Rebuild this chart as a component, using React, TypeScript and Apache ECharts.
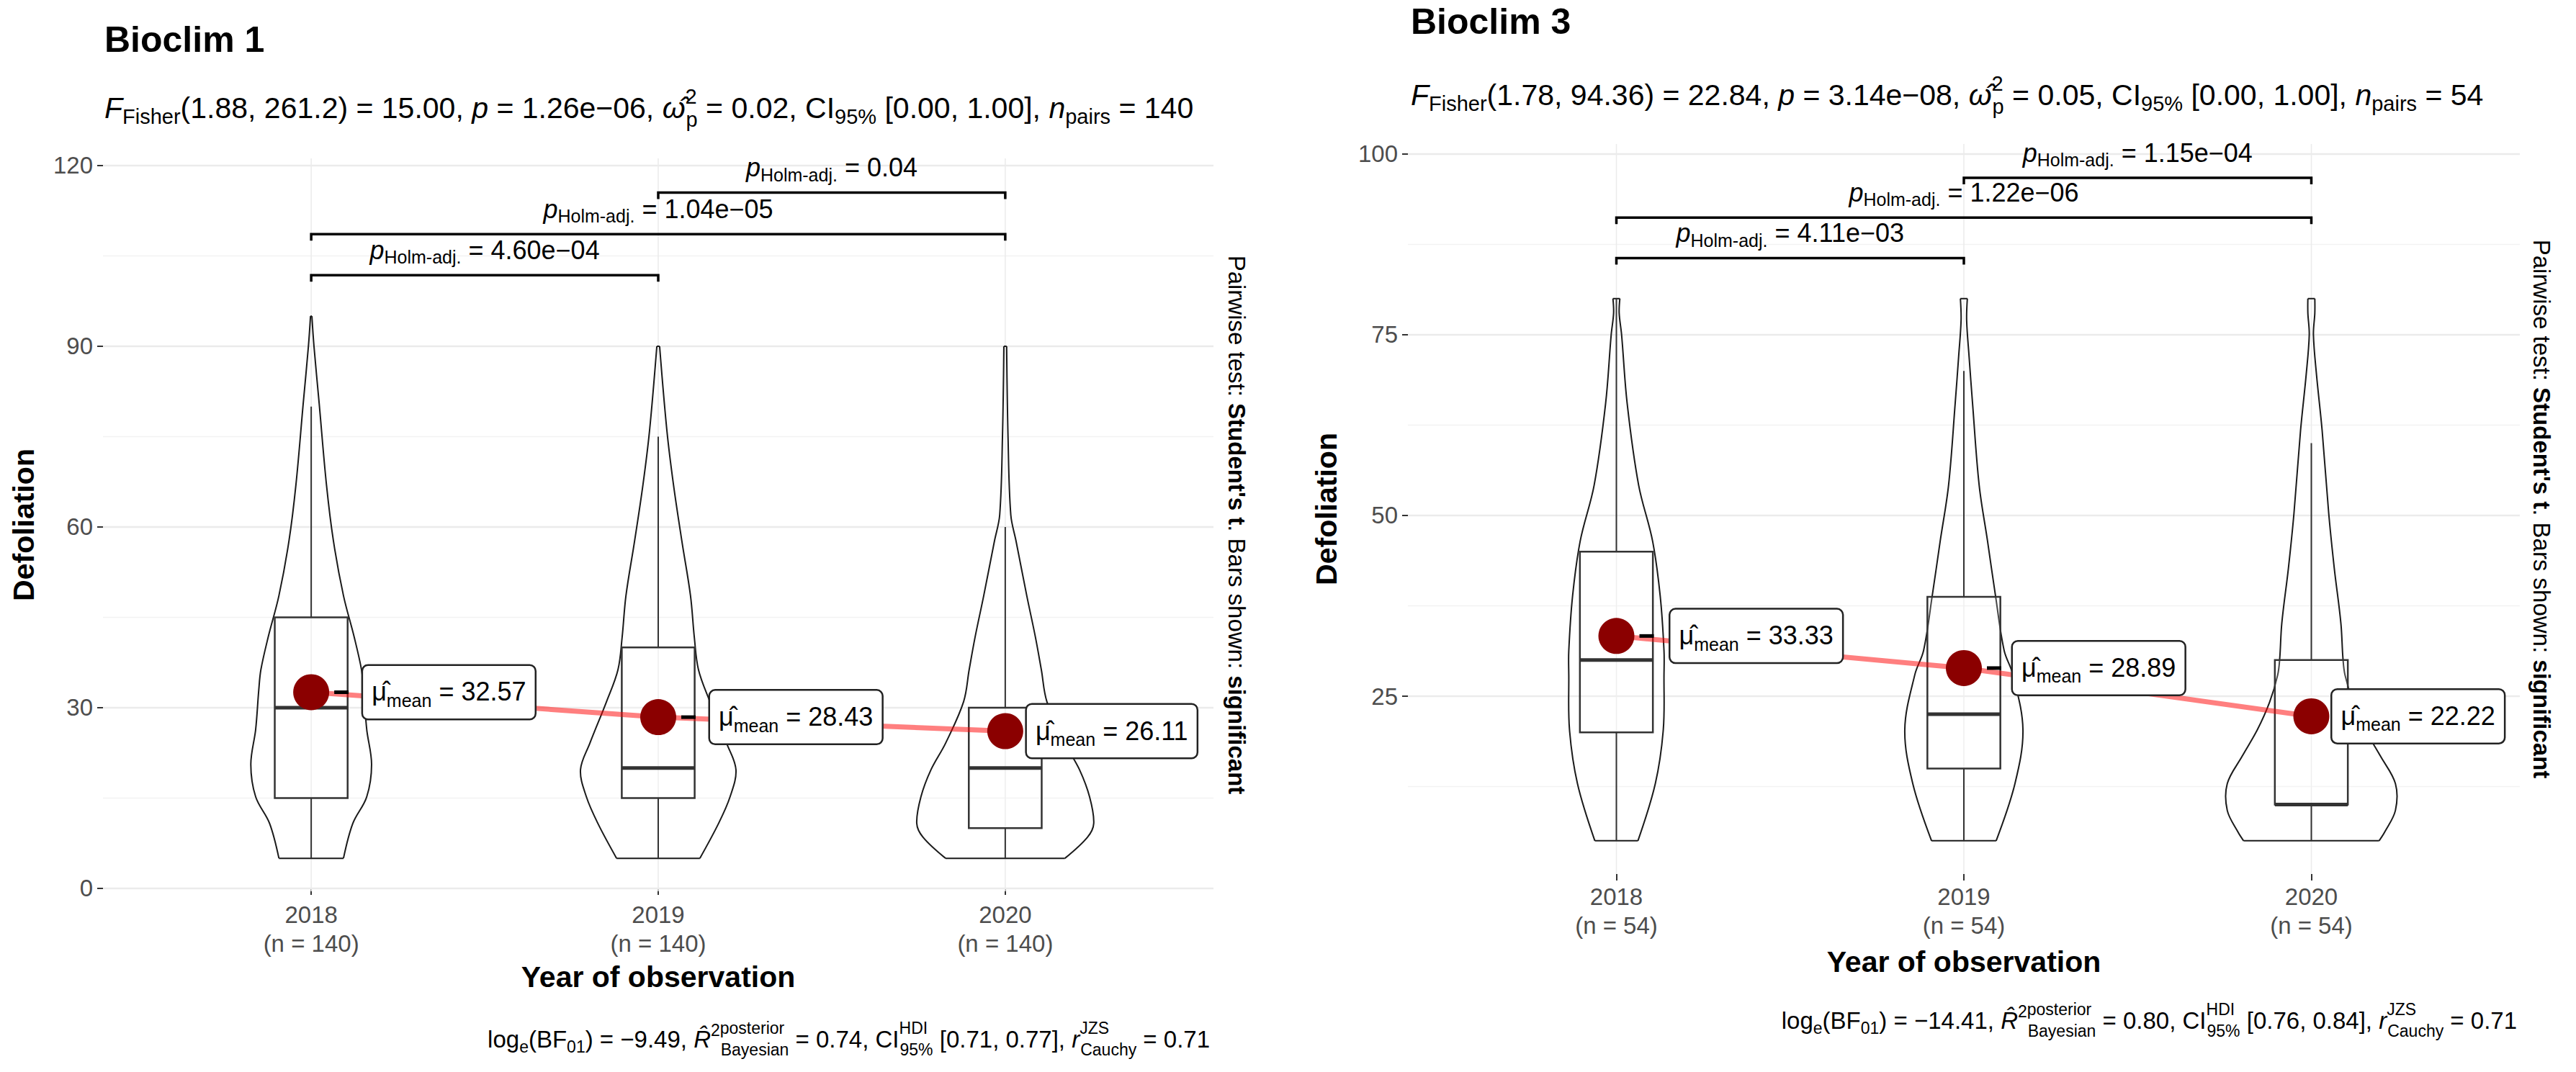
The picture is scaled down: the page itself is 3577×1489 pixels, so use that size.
import React, { useEffect, useRef } from 'react';
import * as echarts from 'echarts';

const FONT = '"Liberation Sans", Arial, Helvetica, sans-serif';

// ---------------- data ----------------
const years = ['2018', '2019', '2020'];
const xPositions = [1, 2, 3];

// Bioclim 1
const b1N = [140, 140, 140];
const b1Means = [32.57, 28.43, 26.11];
const b1Q1 = [15, 15, 10];
const b1Median = [30, 20, 20];
const b1Q3 = [45, 40, 30];
const b1WhiskerLow = [5, 5, 5];
const b1WhiskerHigh = [80, 75, 60];
// violin outline: [defoliation value, half width in x units]
const b1Violin2018 = [[5, 0.093], [10.8, 0.12], [15.2, 0.16], [20.6, 0.174], [26.4, 0.16], [33, 0.151], [36.3, 0.145], [41.7, 0.124], [48.6, 0.093], [57.7, 0.064], [67, 0.044], [80.5, 0.023], [90, 0.008], [95, 0.002]];
const b1Violin2019 = [[5, 0.12], [10.8, 0.174], [15.2, 0.207], [19.7, 0.224], [24.1, 0.197], [31, 0.149], [36.3, 0.116], [41.7, 0.104], [48.6, 0.093], [57.7, 0.068], [67, 0.044], [76, 0.025], [90, 0.004]];
const b1Violin2020 = [[5, 0.172], [8.5, 0.237], [10.8, 0.255], [15.2, 0.243], [19.7, 0.214], [24.1, 0.172], [31, 0.12], [36.3, 0.104], [41.7, 0.087], [48.6, 0.062], [57.7, 0.031], [62, 0.016], [75, 0.008], [90, 0.004]];
const b1PairFrom = [1, 1, 2];
const b1PairTo = [2, 3, 3];
const b1PairHeight = [101.8, 108.6, 115.5];
const b1PairP = ['4.60e\u221204', '1.04e\u221205', '0.04'];
const b1YTicks = [0, 30, 60, 90, 120];
const b1YMinor = [15, 45, 75, 105];

// Bioclim 3
const b3N = [54, 54, 54];
const b3Means = [33.33, 28.89, 22.22];
const b3Q1 = [20, 15, 10];
const b3Median = [30, 22.5, 10];
const b3Q3 = [45, 38.75, 30];
const b3WhiskerLow = [5, 5, 5];
const b3WhiskerHigh = [80, 70, 60];
const b3Violin2018 = [[5, 0.062], [12.9, 0.112], [20.4, 0.135], [27.9, 0.137], [31.3, 0.137], [38.9, 0.126], [46.5, 0.104], [54.2, 0.064], [65.5, 0.031], [75, 0.015], [78, 0.008], [80, 0.01]];
const b3Violin2019 = [[5, 0.093], [12.9, 0.147], [20.4, 0.17], [28, 0.141], [31.3, 0.116], [38.9, 0.091], [46.5, 0.068], [54.2, 0.044], [65.5, 0.025], [72, 0.015], [77, 0.008], [80, 0.01]];
const b3Violin2020 = [[5, 0.195], [6.2, 0.211], [9.2, 0.242], [12.9, 0.242], [16.7, 0.199], [20.4, 0.155], [24.2, 0.12], [27.9, 0.097], [30.2, 0.091], [35.1, 0.085], [42.7, 0.066], [50.3, 0.05], [61.8, 0.031], [69.4, 0.015], [75, 0.006], [78, 0.01], [80, 0.01]];
const b3PairFrom = [1, 1, 2];
const b3PairTo = [2, 3, 3];
const b3PairHeight = [85.6, 91.2, 96.7];
const b3PairP = ['4.11e\u221203', '1.22e\u221206', '1.15e\u221204'];
const b3YTicks = [25, 50, 75, 100];
const b3YMinor = [12.5, 37.5, 62.5, 87.5];

// statistics texts
const b1Stats = { df1: '1.88', df2: '261.2', F: '15.00', p: '1.26e\u221206', omega: '0.02', ci: '[0.00, 1.00]', n: '140', bf: '\u22129.49', r2: '0.74', hdi: '[0.71, 0.77]', rc: '0.71' };
const b3Stats = { df1: '1.78', df2: '94.36', F: '22.84', p: '3.14e\u221208', omega: '0.05', ci: '[0.00, 1.00]', n: '54', bf: '\u221214.41', r2: '0.80', hdi: '[0.76, 0.84]', rc: '0.71' };

// ---------------- helpers ----------------
const BOX_HALF = 0.105;

function mathRich(base: number, L: number, subH: number, supH: number, stackH: number, color = '#000') {
  const s = Math.round(base * 0.7);
  const common = { fontFamily: FONT, fill: color, color, lineHeight: L, align: 'left' };
  return {
    t: { ...common, fontSize: base },
    i: { ...common, fontSize: base, fontStyle: 'italic' },
    b: { ...common, fontSize: base, fontWeight: 'bold' },
    sb: { ...common, fontSize: s, verticalAlign: 'bottom', height: subH },
    sp: { ...common, fontSize: s, verticalAlign: 'top', height: supH },
    sbS: { ...common, fontSize: s, verticalAlign: 'bottom', height: stackH },
    spS: { ...common, fontSize: s, verticalAlign: 'top', height: stackH, width: 1 },
  };
}

const gridRender = (major: number[], minor: number[]) => (params: any, api: any) => {
  const cs = params.coordSys;
  const children: any[] = [];
  const hline = (v: number, color: string, w: number) => {
    const y = api.coord([2, v])[1];
    children.push({ type: 'line', shape: { x1: cs.x, y1: y, x2: cs.x + cs.width, y2: y }, style: { stroke: color, lineWidth: w } });
  };
  minor.forEach((v) => hline(v, '#F2F2F2', 1.5));
  major.forEach((v) => hline(v, '#EBEBEB', 2.5));
  xPositions.forEach((c) => {
    const x = api.coord([c, 50])[0];
    children.push({ type: 'line', shape: { x1: x, y1: cs.y, x2: x, y2: cs.y + cs.height }, style: { stroke: '#EBEBEB', lineWidth: 1.5 } });
  });
  return { type: 'group', children };
};

const violinRender = (violins: number[][][]) => (params: any, api: any) => {
  const c = api.value(0);
  const pts = violins[params.dataIndex];
  const right = pts.map(([v, h]) => api.coord([c + h, v]));
  const left = pts.map(([v, h]) => api.coord([c - h, v]));
  const n = pts.length - 1;
  const st = { stroke: '#1A1A1A', lineWidth: 2, fill: 'none' };
  return {
    type: 'group',
    children: [
      { type: 'polyline', shape: { points: right, smooth: 0.35 }, style: st },
      { type: 'polyline', shape: { points: left, smooth: 0.35 }, style: st },
      { type: 'line', shape: { x1: left[0][0], y1: left[0][1], x2: right[0][0], y2: right[0][1] }, style: st },
      { type: 'line', shape: { x1: left[n][0], y1: left[n][1], x2: right[n][0], y2: right[n][1] }, style: st },
    ],
  };
};

const boxRender = (q1: number[], med: number[], q3: number[], lo: number[], hi: number[]) => (params: any, api: any) => {
  const k = params.dataIndex;
  const c = api.value(0);
  const pLo = api.coord([c, lo[k]]);
  const pQ1 = api.coord([c, q1[k]]);
  const pQ3 = api.coord([c, q3[k]]);
  const pHi = api.coord([c, hi[k]]);
  const tl = api.coord([c - BOX_HALF, q3[k]]);
  const br = api.coord([c + BOX_HALF, q1[k]]);
  const mL = api.coord([c - BOX_HALF, med[k]]);
  const mR = api.coord([c + BOX_HALF, med[k]]);
  const st = { stroke: '#333333', lineWidth: 2.5 };
  return {
    type: 'group',
    children: [
      { type: 'line', shape: { x1: pLo[0], y1: pLo[1], x2: pQ1[0], y2: pQ1[1] }, style: { ...st, lineWidth: 2 } },
      { type: 'line', shape: { x1: pQ3[0], y1: pQ3[1], x2: pHi[0], y2: pHi[1] }, style: { ...st, lineWidth: 2 } },
      { type: 'rect', shape: { x: tl[0], y: tl[1], width: br[0] - tl[0], height: br[1] - tl[1] }, style: { ...st, fill: 'rgba(255,255,255,0.2)' } },
      { type: 'line', shape: { x1: mL[0], y1: mL[1], x2: mR[0], y2: mR[1] }, style: { stroke: '#333333', lineWidth: 5 } },
    ],
  };
};

const BRACKET_RICH = mathRich(36, 46, 26, 26, 20);

const bracketRender = (labels: string[]) => (params: any, api: any) => {
  const x1 = api.value(0);
  const x2 = api.value(1);
  const y = api.value(2);
  const a = api.coord([x1, y]);
  const b = api.coord([x2, y]);
  const tip = 9;
  return {
    type: 'group',
    children: [
      { type: 'polyline', shape: { points: [[a[0], a[1] + tip], [a[0], a[1]], [b[0], b[1]], [b[0], b[1] + tip]] }, style: { stroke: '#000', lineWidth: 3.5, fill: 'none' } },
      {
        type: 'text',
        x: (a[0] + b[0]) / 2,
        y: a[1] - 12,
        style: {
          text: `{i|p}{sb|Holm-adj.}{t| = ${labels[params.dataIndex]}}`,
          align: 'center',
          verticalAlign: 'bottom',
          lineHeight: 46,
          fontSize: 36,
          fontFamily: FONT,
          fill: '#000',
          rich: BRACKET_RICH,
        },
      },
    ],
  };
};

const segmentRender = (gaps: number[]) => (params: any, api: any) => {
  const g = gaps[params.dataIndex];
  if (g < 30) return null;
  const p = api.coord([api.value(0), api.value(1)]);
  return { type: 'line', shape: { x1: p[0] + 32, y1: p[1], x2: p[0] + 52, y2: p[1] }, style: { stroke: '#000', lineWidth: 5 } };
};

function panelSeries(p: number, d: any) {
  const ax = { xAxisIndex: p, yAxisIndex: p };
  const catData = xPositions.map((x, i) => [x, d.median[i]]);
  const meanData = xPositions.map((x, i) => [x, d.means[i]]);
  return [
    { type: 'custom', ...ax, z: 1, silent: true, data: [[2, 50]], renderItem: gridRender(d.major, d.minor) },
    { type: 'custom', ...ax, z: 2, silent: true, data: catData, renderItem: violinRender(d.violins) },
    { type: 'custom', ...ax, z: 3, silent: true, data: catData, renderItem: boxRender(d.q1, d.median, d.q3, d.lo, d.hi) },
    { type: 'line', ...ax, z: 4, silent: true, data: meanData, symbol: 'none', lineStyle: { color: 'rgba(255,0,0,0.5)', width: 7 } },
    { type: 'custom', ...ax, z: 5, silent: true, data: meanData, renderItem: segmentRender(d.gaps) },
    {
      type: 'scatter',
      ...ax,
      z: 6,
      silent: true,
      symbol: 'circle',
      symbolSize: 50,
      itemStyle: { color: '#8B0000', opacity: 1 },
      data: meanData.map((v, i) => ({ value: v, label: { distance: d.gaps[i] - 2 } })),
      label: {
        show: true,
        position: 'right',
        formatter: (pr: any) => `{mu|\u03BC\u0302}{sb|mean}{t| = ${Number(pr.value[1]).toFixed(2)}}`,
        backgroundColor: '#FFFFFF',
        borderColor: '#222222',
        borderWidth: 2.5,
        borderRadius: 7,
        padding: [12, 12, 13, 12],
        lineHeight: 48,
        fontSize: 36,
        fontFamily: FONT,
        color: '#000',
        rich: {
          mu: { fontSize: 36, fontFamily: FONT, color: '#000', lineHeight: 48, align: 'left' },
          t: { fontSize: 36, fontFamily: FONT, color: '#000', lineHeight: 48, align: 'left' },
          sb: { fontSize: 25, fontFamily: FONT, color: '#000', lineHeight: 48, align: 'left', verticalAlign: 'bottom', height: 24 },
        },
      },
    },
    {
      type: 'custom',
      ...ax,
      z: 7,
      silent: true,
      encode: { x: [0, 1], y: 2 },
      data: d.pairFrom.map((f: number, i: number) => [f, d.pairTo[i], d.pairHeight[i]]),
      renderItem: bracketRender(d.pairP),
    },
  ];
}

function xAxisFor(p: number, n: number[], margin: number) {
  return {
    type: 'value',
    gridIndex: p,
    min: 0.4,
    max: 3.6,
    axisLine: { show: false },
    splitLine: { show: false },
    axisTick: { show: true, customValues: xPositions, length: 9, lineStyle: { color: '#333333', width: 2 } },
    axisLabel: {
      show: true,
      customValues: xPositions,
      formatter: (v: number) => `${years[Math.round(v) - 1]}\n(n = ${n[Math.round(v) - 1]})`,
      fontSize: 33,
      lineHeight: 40,
      color: '#4D4D4D',
      fontFamily: FONT,
      margin,
    },
  };
}

function yAxisFor(p: number, min: number, max: number, ticks: number[]) {
  return {
    type: 'value',
    gridIndex: p,
    min,
    max,
    axisLine: { show: false },
    splitLine: { show: false },
    axisTick: { show: true, customValues: ticks, length: 8, lineStyle: { color: '#333333', width: 2 } },
    axisLabel: { show: true, customValues: ticks, fontSize: 33, color: '#4D4D4D', fontFamily: FONT, margin: 14 },
  };
}

function subtitleText(s: any) {
  return `{i|F}{sb|Fisher}{t|(${s.df1}, ${s.df2}) = ${s.F}, }{i|p}{t| = ${s.p}, }{i|\u03C9\u0302}{spS|2}{sbS|p}{t| = ${s.omega}, CI}{sb|95%}{t| ${s.ci}, }{i|n}{sb|pairs}{t| = ${s.n}}`;
}
function captionText(s: any) {
  return `{t|log}{sb|e}{t|(BF}{sb|01}{t|) = ${s.bf}, }{i|R\u0302}{sp|2}{spS|posterior}{sbS|Bayesian}{t| = ${s.r2}, CI}{spS|HDI}{sbS|95%}{t| ${s.hdi}, }{i|r}{spS|JZS}{sbS|Cauchy}{t| = ${s.rc}}`;
}

const SUBTITLE_RICH = mathRich(41, 58, 34, 32, 26);
const CAPTION_RICH = mathRich(33, 50, 28, 26, 20);
const SIDE_RICH = mathRich(33, 40, 30, 30, 30);

function textEl(x: number, y: number, text: string, style: any, rotation = 0) {
  return { type: 'text', x, y, rotation, z: 20, silent: true, style: { text, fontFamily: FONT, fill: '#000', ...style } };
}

function buildOption() {
  const p1 = {
    means: b1Means, q1: b1Q1, median: b1Median, q3: b1Q3, lo: b1WhiskerLow, hi: b1WhiskerHigh,
    violins: [b1Violin2018, b1Violin2019, b1Violin2020], major: b1YTicks, minor: b1YMinor,
    pairFrom: b1PairFrom, pairTo: b1PairTo, pairHeight: b1PairHeight, pairP: b1PairP, gaps: [49, 49, 7],
  };
  const p3 = {
    means: b3Means, q1: b3Q1, median: b3Median, q3: b3Q3, lo: b3WhiskerLow, hi: b3WhiskerHigh,
    violins: [b3Violin2018, b3Violin2019, b3Violin2020], major: b3YTicks, minor: b3YMinor,
    pairFrom: b3PairFrom, pairTo: b3PairTo, pairHeight: b3PairHeight, pairP: b3PairP, gaps: [52, 45, 6],
  };

  const graphic = [
    textEl(145, 55, 'Bioclim 1', { fontSize: 50, fontWeight: 'bold', align: 'left', verticalAlign: 'middle' }),
    textEl(1959, 30, 'Bioclim 3', { fontSize: 50, fontWeight: 'bold', align: 'left', verticalAlign: 'middle' }),
    textEl(145, 150, subtitleText(b1Stats), { fontSize: 41, lineHeight: 58, align: 'left', verticalAlign: 'middle', rich: SUBTITLE_RICH }),
    textEl(1959, 132, subtitleText(b3Stats), { fontSize: 41, lineHeight: 58, align: 'left', verticalAlign: 'middle', rich: SUBTITLE_RICH }),
    textEl(1680, 1443, captionText(b1Stats), { fontSize: 33, lineHeight: 50, align: 'right', verticalAlign: 'middle', rich: CAPTION_RICH }),
    textEl(3495, 1417, captionText(b3Stats), { fontSize: 33, lineHeight: 50, align: 'right', verticalAlign: 'middle', rich: CAPTION_RICH }),
    textEl(914, 1357, 'Year of observation', { fontSize: 41, fontWeight: 'bold', align: 'center', verticalAlign: 'middle' }),
    textEl(2727, 1336, 'Year of observation', { fontSize: 41, fontWeight: 'bold', align: 'center', verticalAlign: 'middle' }),
    textEl(33, 729, 'Defoliation', { fontSize: 41, fontWeight: 'bold', align: 'center', verticalAlign: 'middle' }, Math.PI / 2),
    textEl(1842, 707, 'Defoliation', { fontSize: 41, fontWeight: 'bold', align: 'center', verticalAlign: 'middle' }, Math.PI / 2),
    textEl(1717, 729, "{t|Pairwise test: }{b|Student's t}{t|. Bars shown: }{b|significant}", { fontSize: 33, lineHeight: 40, align: 'center', verticalAlign: 'middle', rich: SIDE_RICH }, -Math.PI / 2),
    textEl(3529, 707, "{t|Pairwise test: }{b|Student's t}{t|. Bars shown: }{b|significant}", { fontSize: 33, lineHeight: 40, align: 'center', verticalAlign: 'middle', rich: SIDE_RICH }, -Math.PI / 2),
  ];

  return {
    animation: false,
    backgroundColor: '#FFFFFF',
    textStyle: { fontFamily: FONT },
    grid: [
      { left: 143, right: 3577 - 1685, top: 220, bottom: 1489 - 1238, containLabel: false, outerBoundsMode: 'none' },
      { left: 1955, right: 3577 - 3499, top: 200, bottom: 1489 - 1214, containLabel: false, outerBoundsMode: 'none' },
    ],
    xAxis: [xAxisFor(0, b1N, 12), xAxisFor(1, b3N, 11)],
    yAxis: [yAxisFor(0, -0.48, 121.19, b1YTicks), yAxisFor(1, 0.4, 101.39, b3YTicks)],
    series: [...panelSeries(0, p1), ...panelSeries(1, p3)],
    graphic,
  };
}

export default function App() {
  const ref = useRef<HTMLDivElement>(null);
  useEffect(() => {
    document.body.style.margin = '0';
    document.body.style.overflow = 'hidden';
    const chart = echarts.init(ref.current as HTMLDivElement, null, { renderer: 'svg' });
    chart.setOption(buildOption() as any);
    return () => chart.dispose();
  }, []);
  return <div ref={ref} style={{ width: 3577, height: 1489, background: '#fff' }} />;
}
